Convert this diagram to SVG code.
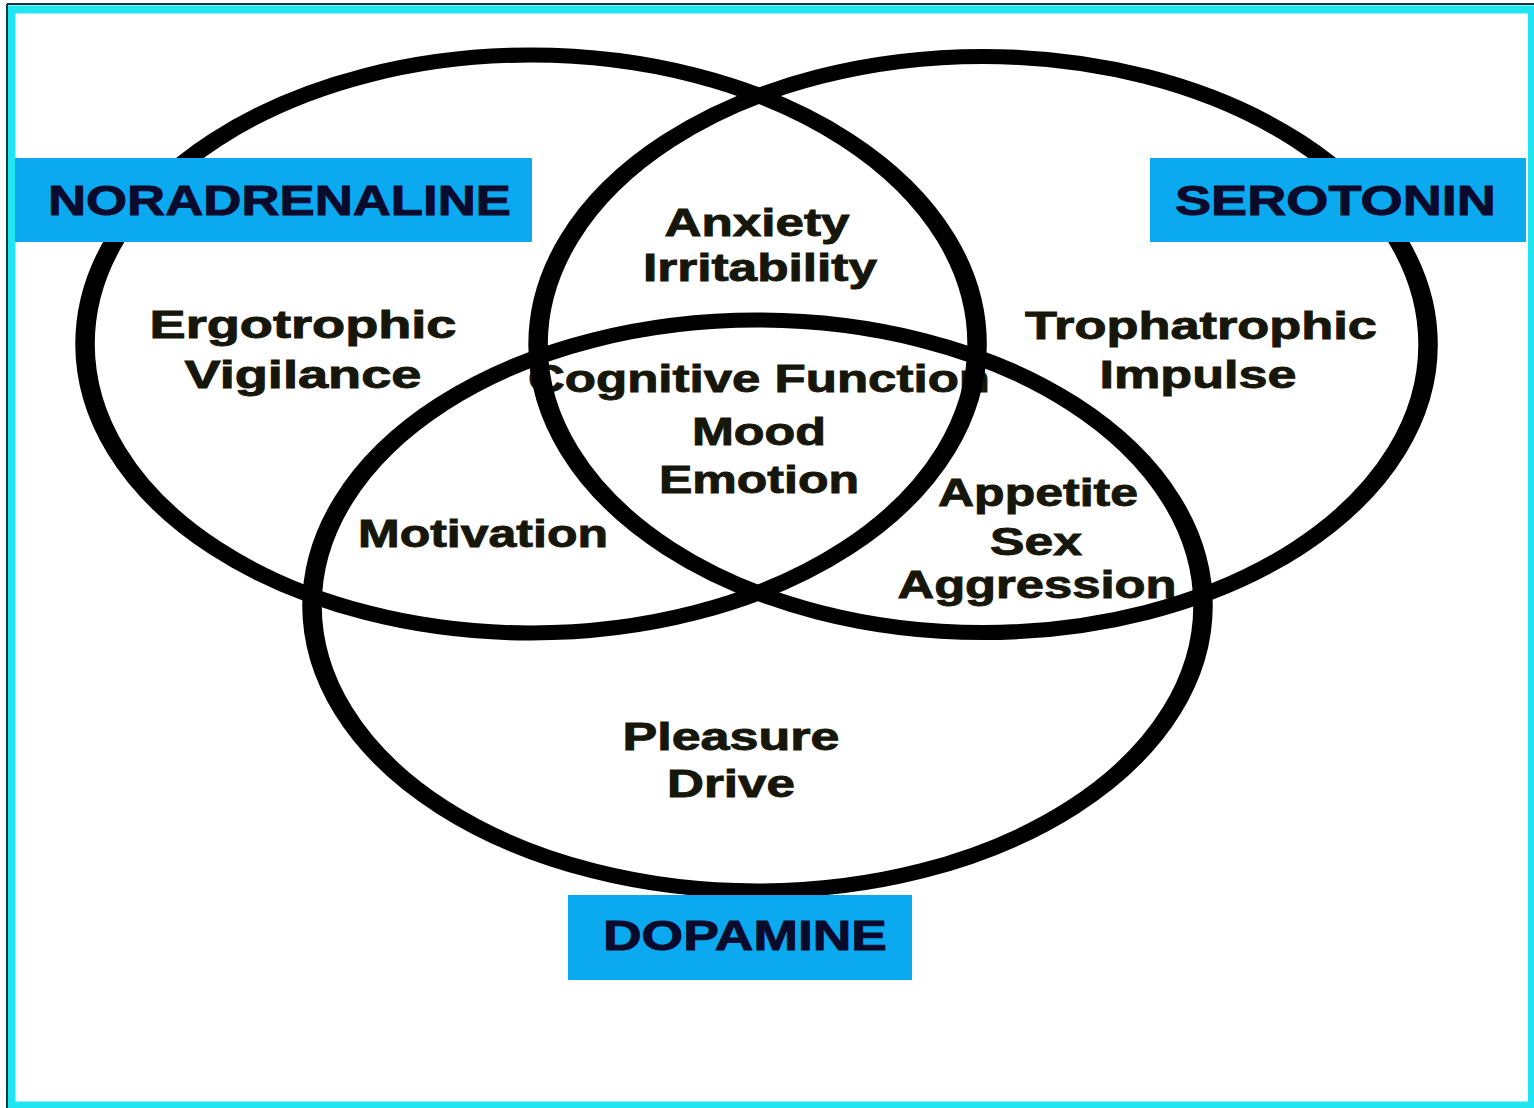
<svg xmlns="http://www.w3.org/2000/svg" width="1534" height="1108" viewBox="0 0 1534 1108">
  <style>
    .t { font-family: "Liberation Sans", Arial, sans-serif; font-weight: bold; font-size: 38px; fill: #16160a; stroke: #16160a; stroke-width: 0.9; text-anchor: middle; }
    .lbl { font-family: "Liberation Sans", Arial, sans-serif; font-weight: bold; font-size: 42px; fill: #0a0a2c; stroke: #0a0a2c; stroke-width: 0.9; text-anchor: middle; }
    .box { fill: #0ba9ef; }
    .set { fill: none; stroke: #000; stroke-width: 15; }
  </style>
  <rect x="0" y="0" width="1534" height="1108" fill="#ffffff"/>
  <!-- frame -->
  <rect x="11.5" y="9.5" width="1520.5" height="1096" fill="none" stroke="#1fe6f0" stroke-width="8"/>
  <line x1="7" y1="4" x2="1534" y2="4" stroke="#0b3b3c" stroke-width="2"/>
  <line x1="7" y1="4" x2="7" y2="1108" stroke="#0b3b3c" stroke-width="2"/>

  <!-- region texts -->
  <g id="na-only">
    <text class="t" x="303" y="338" textLength="307" lengthAdjust="spacingAndGlyphs">Ergotrophic</text>
    <text class="t" x="303" y="388" textLength="237" lengthAdjust="spacingAndGlyphs">Vigilance</text>
  </g>
  <g id="na-se">
    <text class="t" x="757" y="236" textLength="185" lengthAdjust="spacingAndGlyphs">Anxiety</text>
    <text class="t" x="760" y="281" textLength="234" lengthAdjust="spacingAndGlyphs">Irritability</text>
  </g>
  <g id="se-only">
    <text class="t" x="1201" y="339" textLength="352" lengthAdjust="spacingAndGlyphs">Trophatrophic</text>
    <text class="t" x="1198" y="388" textLength="197" lengthAdjust="spacingAndGlyphs">Impulse</text>
  </g>
  <g id="center">
    <text class="t" x="759" y="392" textLength="462" lengthAdjust="spacingAndGlyphs">Cognitive Function</text>
    <text class="t" x="759" y="445" textLength="134" lengthAdjust="spacingAndGlyphs">Mood</text>
    <text class="t" x="759" y="493" textLength="200" lengthAdjust="spacingAndGlyphs">Emotion</text>
  </g>
  <g id="na-da">
    <text class="t" x="483" y="547" textLength="250" lengthAdjust="spacingAndGlyphs">Motivation</text>
  </g>
  <g id="se-da">
    <text class="t" x="1038" y="506" textLength="200" lengthAdjust="spacingAndGlyphs">Appetite</text>
    <text class="t" x="1036" y="555" textLength="92" lengthAdjust="spacingAndGlyphs">Sex</text>
    <text class="t" x="1037" y="598" textLength="279" lengthAdjust="spacingAndGlyphs">Aggression</text>
  </g>
  <g id="da-only">
    <text class="t" x="731" y="750" textLength="217" lengthAdjust="spacingAndGlyphs">Pleasure</text>
    <text class="t" x="731" y="797" textLength="128" lengthAdjust="spacingAndGlyphs">Drive</text>
  </g>

  <!-- set outlines -->
  <g id="sets" transform="scale(1.3,1)">
    <ellipse id="ellipse-noradrenaline" class="set" cx="408.5" cy="344" rx="343.1" ry="289"/>
    <ellipse id="ellipse-serotonin" class="set" cx="756.2" cy="344.5" rx="342.3" ry="288"/>
    <ellipse id="ellipse-dopamine" class="set" cx="582.7" cy="605.5" rx="342.7" ry="285.5"/>
  </g>

  <!-- set labels -->
  <g id="label-noradrenaline">
    <rect class="box" x="15" y="158" width="517" height="84"/>
    <text class="lbl" x="279.5" y="215" textLength="463" lengthAdjust="spacingAndGlyphs">NORADRENALINE</text>
  </g>
  <g id="label-serotonin">
    <rect class="box" x="1150" y="158" width="376" height="84"/>
    <text class="lbl" x="1335.5" y="215" textLength="321" lengthAdjust="spacingAndGlyphs">SEROTONIN</text>
  </g>
  <g id="label-dopamine">
    <rect class="box" x="568" y="895" width="344" height="85"/>
    <text class="lbl" x="745" y="950" textLength="284" lengthAdjust="spacingAndGlyphs">DOPAMINE</text>
  </g>
</svg>
